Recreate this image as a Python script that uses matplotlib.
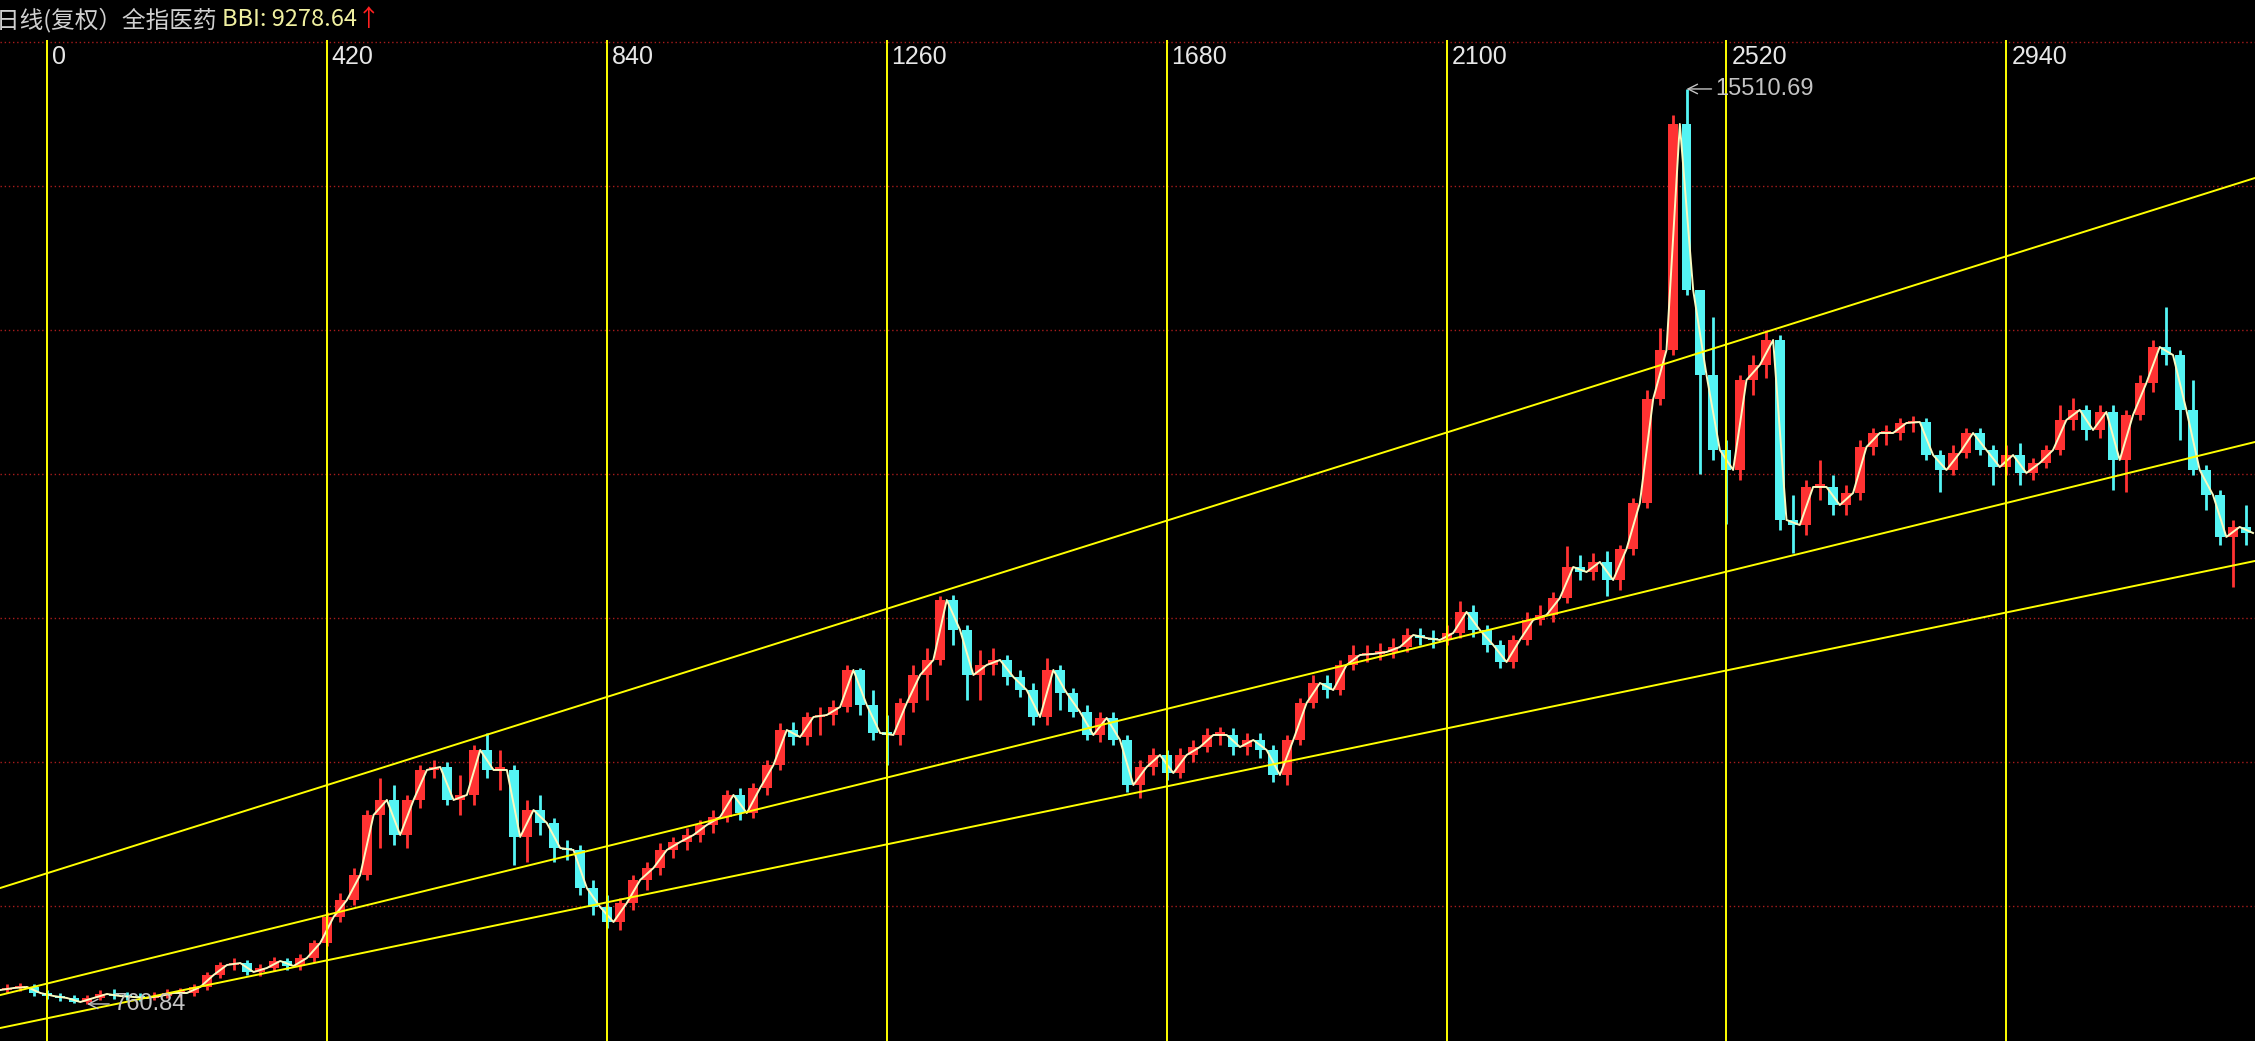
import numpy as np
import matplotlib
matplotlib.use("Agg")
from matplotlib import pyplot as plt

plt.rcParams["font.family"] = ["Noto Sans CJK SC", "DejaVu Sans"]

# daily chart squeezed into 20-bar blocks; block i ends at bar BLOCK0_END + 20 * i
BLOCK = 20
BLOCK0_END = -70

closes = [
    986, 1018, 1035, 938, 889, 857, 793, 857, 922, 889,
    873, 857, 889, 938, 938, 1035, 1228, 1389, 1421, 1276,
    1341, 1454, 1373, 1502, 1744, 2163, 2437, 2840, 3807, 4049,
    3485, 4049, 4533, 4581, 4049, 4130, 4855, 4533, 4533, 3453,
    3888, 3678, 3275, 3243, 2630, 2324, 2082, 2389, 2759, 2953,
    3243, 3372, 3485, 3646, 3775, 4130, 3839, 4242, 4613, 5177,
    5065, 5387, 5419, 5548, 6145, 5580, 5129, 5097, 5613, 6064,
    6306, 7273, 6789, 6064, 6225, 6306, 6032, 5822, 5387, 6145,
    5774, 5468, 5097, 5371, 5016, 4291, 4581, 4774, 4484, 4774,
    4903, 5097, 5097, 4903, 5016, 4855, 4452, 5016, 5613, 5935,
    5822, 6225, 6386, 6403, 6435, 6515, 6709, 6660, 6628, 6741,
    7080, 6789, 6548, 6274, 6628, 6951, 7031, 7305, 7805, 7724,
    7886, 7595, 8095, 8837, 10513, 11303, 14946, 12270, 10900, 9691,
    9369, 10819, 11061, 11464, 8563, 8482, 9095, 9095, 8804, 8998,
    9739, 9965, 9965, 10126, 10142, 9610, 9369, 9643, 9965, 9691,
    9417, 9610, 9320, 9481, 9691, 10175, 10336, 10013, 10304, 9530,
    10255, 10771, 11351, 11222, 10336, 9369, 8966, 8289, 8450, 8353,
]

highs = [
    1035, 1083, 1099, 1083, 986, 938, 906, 906, 986, 1002,
    954, 938, 954, 1002, 1018, 1083, 1276, 1438, 1502, 1470,
    1405, 1518, 1502, 1567, 1792, 2244, 2550, 2953, 3888, 4404,
    4291, 4130, 4613, 4694, 4662, 4452, 4936, 5129, 4855, 4613,
    4049, 4130, 3759, 3404, 3324, 2759, 2518, 2469, 2840, 3050,
    3356, 3453, 3598, 3727, 3888, 4210, 4242, 4323, 4694, 5290,
    5306, 5468, 5548, 5661, 6225, 6177, 5822, 5419, 5693, 6225,
    6499, 7337, 7354, 6870, 6467, 6499, 6386, 6145, 5935, 6338,
    6225, 5854, 5580, 5468, 5468, 5097, 4694, 4887, 4855, 4887,
    5016, 5210, 5226, 5210, 5129, 5129, 4936, 5097, 5693, 6064,
    6064, 6306, 6548, 6548, 6580, 6660, 6822, 6822, 6789, 6870,
    7257, 7192, 6870, 6628, 6709, 7080, 7192, 7402, 8143, 7998,
    8031, 8063, 8160, 8917, 10658, 11658, 15091, 15510.69, 12238, 11835,
    9852, 10900, 11222, 11625, 11545, 8966, 9207, 9530, 9288, 9127,
    9852, 10046, 10094, 10207, 10239, 10207, 9691, 9772, 10046, 10046,
    9772, 9772, 9804, 9562, 9772, 10416, 10529, 10416, 10416, 10416,
    10336, 10900, 11464, 11996, 11303, 10819, 9449, 9046, 8563, 8804,
]

lows = [
    938, 938, 970, 889, 841, 809, 777, 760.84, 825, 841,
    825, 809, 825, 857, 873, 889, 986, 1180, 1309, 1228,
    1212, 1292, 1309, 1309, 1438, 1695, 2082, 2356, 2759, 3275,
    3324, 3275, 3920, 4404, 3968, 3807, 3968, 4404, 4210, 3001,
    3050, 3485, 3050, 3082, 2518, 2195, 1986, 1953, 2276, 2598,
    2840, 3114, 3243, 3372, 3517, 3694, 3727, 3759, 4130, 4533,
    4936, 4936, 5097, 5258, 5468, 5419, 5016, 4613, 4936, 5468,
    5661, 6225, 6548, 5661, 5661, 6064, 5903, 5709, 5258, 5258,
    5500, 5387, 5016, 4984, 4936, 4178, 4081, 4452, 4371, 4404,
    4662, 4823, 4936, 4774, 4774, 4726, 4339, 4291, 4936, 5532,
    5693, 5742, 6145, 6274, 6306, 6338, 6435, 6548, 6499, 6548,
    6660, 6677, 6435, 6177, 6177, 6548, 6870, 6918, 7225, 7595,
    7595, 7337, 7434, 7998, 8756, 10416, 11222, 12190, 9304, 9530,
    8498, 9207, 10578, 10852, 8401, 8031, 8321, 8885, 8643, 8643,
    8885, 9610, 9772, 9852, 9981, 9530, 9014, 9288, 9562, 9610,
    9127, 9288, 9127, 9207, 9401, 9610, 10013, 9852, 9884, 9046,
    9014, 10175, 10626, 11061, 9852, 9288, 8724, 8160, 7483, 8160,
]

cycle_bars = [0, 420, 840, 1260, 1680, 2100, 2520, 2940]

# hand drawn channel lines, (bar, price) at both ends
channel_top = [(-70, 2631), (3313, 14076)]
channel_mid = [(-70, 905), (3313, 9820)]
channel_low = [(-70, 374), (3313, 7902)]

title = "日线(复权）全指医药 "
bbi_text = "BBI: 9278.64"

RED = "#ff3232"
CYAN = "#54f4f4"
YELLOW = "#ffff00"

W, H = 2255, 1041
fig = plt.figure(figsize=(W / 100, H / 100), dpi=100, facecolor="black")
ax = fig.add_axes([0, 0, 1, (H - 40) / H])
ax.set_facecolor("black")
for s in ax.spines.values():
    s.set_visible(False)
ax.set_xticks([])
ax.set_yticks([])
ax.set_xlim(-70.5, 3313)
ax.set_ylim(164, 16300)

# dotted horizontal grid
for gy in np.arange(16268, 0, -2321.4):
    ax.axhline(gy, color="#a81c1c", lw=1.0, ls=(0, (1, 2)), zorder=1)

closes = np.array(closes, float)
highs = np.array(highs, float)
lows = np.array(lows, float)
opens = np.r_[closes[0], closes[:-1]]
ends = BLOCK0_END + BLOCK * np.arange(len(closes))
mids = ends - BLOCK / 2
colors = np.where(closes >= opens, RED, CYAN)

top = np.maximum(highs, np.maximum(opens, closes))
bot = np.minimum(lows, np.minimum(opens, closes))
ax.vlines(mids, bot, top, colors=colors, lw=2.0, zorder=2)
body = np.maximum(np.abs(closes - opens), 40)
ax.bar(mids, body, bottom=np.minimum(opens, closes), width=BLOCK * 0.75,
       color=colors, lw=0, zorder=2)

# BBI line
ax.plot(ends, closes, color="#fafac0", lw=1.4, zorder=3)

for b in cycle_bars:
    ax.axvline(b, color=YELLOW, lw=1.4, zorder=4)
    ax.annotate(str(b), xy=(b, 1), xycoords=("data", "axes fraction"),
                xytext=(3.5, -12.5), textcoords="offset points",
                ha="left", va="center", color="#e8e8e8", fontsize=18,
                family=["Liberation Sans", "DejaVu Sans"], zorder=5)

for line in (channel_top, channel_mid, channel_low):
    xs, ys = zip(*line)
    ax.plot(xs, ys, color=YELLOW, lw=1.4, zorder=4)

# extreme labels
imax = int(np.argmax(highs))
imin = int(np.argmin(lows))
label_font = dict(color="#c4c4c4", fontsize=17, family=["Liberation Sans", "DejaVu Sans"])
ax.annotate(f"{highs[imax]:.2f}", xy=(mids[imax], highs[imax]), xytext=(21, 0),
            textcoords="offset points", ha="left", va="center", zorder=6,
            arrowprops=dict(arrowstyle="->", color="#c4c4c4", lw=1, shrinkA=1, shrinkB=0),
            **label_font)
ax.annotate(f"{lows[imin]:.2f}", xy=(mids[imin], lows[imin]), xytext=(19, 0),
            textcoords="offset points", ha="left", va="center", zorder=6,
            arrowprops=dict(arrowstyle="->", color="#c4c4c4", lw=1, shrinkA=1, shrinkB=0),
            **label_font)

# header line
renderer = fig.canvas.get_renderer()
x = -4 / W
y = 1 - 20 / H
for txt, col in [(title, "#d0d0d0"), (bbi_text, "#f0f0a0"), ("↑", "#ff2020")]:
    t = fig.text(x, y, txt, color=col, fontsize=17, ha="left", va="center")
    bb = t.get_window_extent(renderer)
    x = bb.x1 / W

fig.savefig("out.png", dpi=100, facecolor="black")
